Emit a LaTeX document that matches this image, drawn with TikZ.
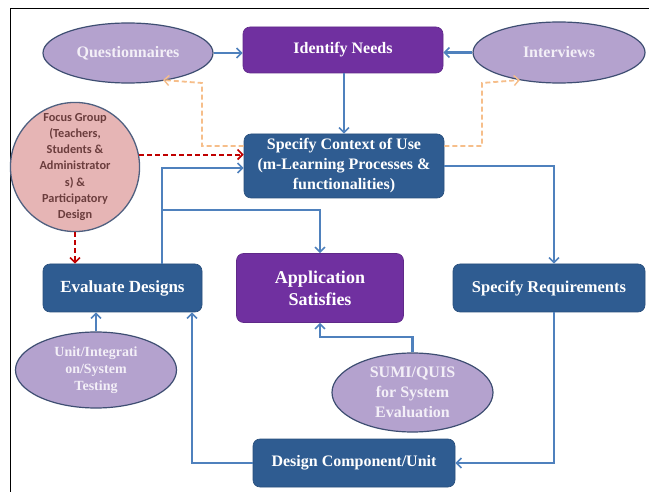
\documentclass[tikz,border=0pt]{standalone}
\usepackage{fontspec}
\setmainfont{Liberation Serif}
\newfontfamily\calfont{Carlito}
\usetikzlibrary{arrows.meta,shapes.geometric}
\definecolor{boxblue}{HTML}{2F5C91}
\definecolor{boxpurple}{HTML}{7030A0}
\definecolor{lav}{HTML}{B4A2CE}
\definecolor{lavedge}{HTML}{3E4E72}
\definecolor{pinkfill}{HTML}{E6B5B5}
\definecolor{pinkedge}{HTML}{4F6080}
\definecolor{fgtext}{HTML}{6B3D3D}
\definecolor{linkblue}{HTML}{4F81BD}
\definecolor{lightorange}{HTML}{F6BE8A}
\definecolor{darkred}{HTML}{C00000}
\definecolor{paletext}{HTML}{F3EFF7}
\tikzset{
  box/.style={fill=boxblue, draw=boxblue!85!black, line width=0.6pt, rounded corners=7pt,
    text=white, align=center, inner sep=0pt,
    font=\bfseries\fontsize{16}{20}\selectfont},
  pbox/.style={box, fill=boxpurple, draw=boxpurple!85!black},
  oval/.style={ellipse, fill=lav, draw=lavedge, line width=1.2pt, text=paletext,
    align=center, inner sep=0pt, font=\bfseries\fontsize{16}{20}\selectfont},
  arr/.style={draw=linkblue, line width=2.2pt, -{Straight Barb[length=5pt,width=10pt,line width=1.6pt]}},
  odash/.style={draw=lightorange, line width=1.8pt, dash pattern=on 5pt off 3pt,
    -{Straight Barb[length=5pt,width=10pt,line width=1.4pt]}},
  rdash/.style={draw=darkred, line width=2pt, dash pattern=on 5pt off 3pt,
    -{Straight Barb[length=5pt,width=10pt,line width=1.6pt]}},
}
\begin{document}
\begin{tikzpicture}[x=1pt,y=-1pt]
\useasboundingbox (0,0) rectangle (649,492);
\fill[white] (0,0) rectangle (649,492);
\draw[line width=1.6pt] (10.5,492) -- (10.5,8.5) -- (649,8.5);

% nodes
\node[pbox, minimum width=200pt, minimum height=46pt] (idn) at (343,50) {Identify Needs};
\node[box, minimum width=200pt, minimum height=64pt] (ctx) at (344,166)
  {Specify Context of Use\\(m-Learning Processes \&\\functionalities)};
\node[box, minimum width=159pt, minimum height=48pt, font=\bfseries\fontsize{17}{20}\selectfont] (evd) at (122.5,288) {Evaluate Designs};
\node[pbox, minimum width=167pt, minimum height=69pt, font=\bfseries\fontsize{18}{22}\selectfont] (app) at (320,288) {Application\\Satisfies};
\node[box, minimum width=192pt, minimum height=48pt, font=\bfseries\fontsize{16.5}{20}\selectfont] (req) at (549,288) {Specify Requirements};
\node[box, minimum width=202pt, minimum height=48pt] (dcu) at (354,463) {Design Component/Unit};

\node[oval, minimum width=170pt, minimum height=60pt] (qst) at (128,53) {Questionnaires};
\node[oval, minimum width=172pt, minimum height=61pt] (int) at (559,52.5) {Interviews};
\node[oval, minimum width=161pt, minimum height=76pt, font=\bfseries\fontsize{14}{17}\selectfont] (uit) at (96,370) {Unit/Integrati\\on/System\\Testing};
\node[oval, minimum width=161pt, minimum height=79pt] (sumi) at (412.5,392.5) {SUMI/QUIS\\for System\\Evaluation};

\node[circle, fill=pinkfill, draw=pinkedge, line width=1.3pt, minimum size=124pt, inner sep=0pt,
  text=fgtext, align=center, font=\calfont\bfseries\fontsize{12.3}{16.3}\selectfont] (fg) at (75,167)
  {Focus Group\\(Teachers,\\Students \&\\Administrator\\s) \&\\Participatory\\Design};

% coordinates
\coordinate (qend) at (163,80);
\coordinate (iend) at (520,80);
\coordinate (jv) at (162,168);
\coordinate (jb) at (162,210);
\coordinate (rv) at (554,166);
\coordinate (lv) at (192,463);

% connectors
\draw[arr] (qst.east) -- (qst.east -| idn.west);
\draw[arr] (int.west) -- (int.west -| idn.east);
\draw[arr] (idn.south -| ctx.north) -- (ctx.north);

\draw[odash] ([yshift=20pt]ctx.west) -| (202,83) -- (qend);
\draw[odash] ([yshift=20pt]ctx.east) -| (482,83) -- (iend);

\draw[rdash] (fg.11) -- (fg.11 -| ctx.west);
\draw[rdash] (fg.south) -- (fg.south |- evd.north);

\draw[arr] (evd.north -| jv) -- (jv) -- (jv -| ctx.west);
\draw[arr] (jb) -| (app.north);
\draw[arr] (ctx.east |- rv) -- (rv) -- (rv |- req.north);
\draw[arr] (req.south -| rv) |- (dcu.east);
\draw[arr] (dcu.west) -- (lv) -- (lv |- evd.south);
\draw[arr] (uit.north) -- (uit.north |- evd.south);
\draw[arr] (sumi.north) -- ++(0,-15) -| (app.south);
\end{tikzpicture}
\end{document}
